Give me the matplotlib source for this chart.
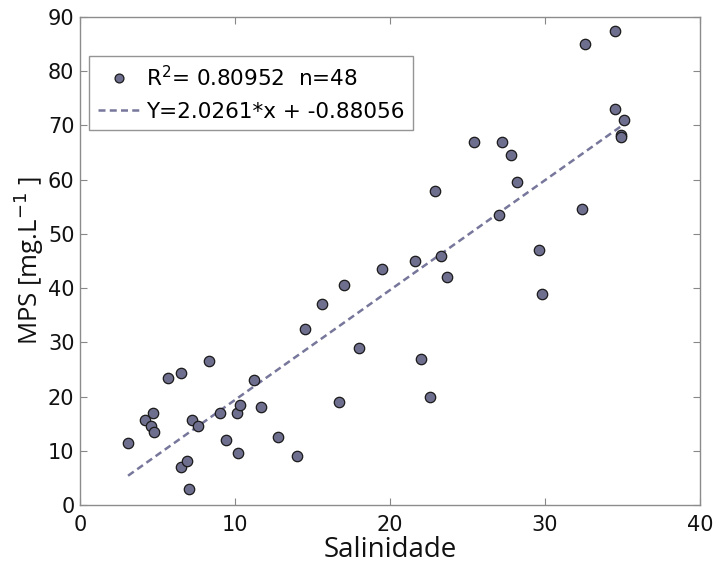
import matplotlib
matplotlib.use("Agg")
import matplotlib.pyplot as plt
import numpy as np

salinidade = [3.1, 4.2, 4.7, 4.6, 4.8, 5.7, 6.5, 6.5, 6.9, 7.0, 7.2, 7.6,
              8.3, 9.0, 9.4, 10.1, 10.2, 10.3, 11.2, 11.7, 12.8, 14.0,
              14.5, 15.6, 16.7, 17.0, 18.0, 19.5, 21.6, 22.0, 22.6, 22.9,
              23.3, 23.7, 25.4, 27.0, 27.2, 27.8, 28.2, 29.6, 29.8, 32.4,
              32.6, 34.5, 34.5, 34.9, 34.9, 35.1]
mps = [11.5, 15.6, 17.0, 14.5, 13.5, 23.5, 24.3, 7.0, 8.2, 3.0, 15.6, 14.5,
       26.5, 17.0, 12.0, 17.0, 9.5, 18.5, 23.1, 18.0, 12.5, 9.0,
       32.5, 37.0, 19.0, 40.5, 29.0, 43.6, 45.0, 27.0, 20.0, 58.0,
       46.0, 42.1, 67.0, 53.5, 67.0, 64.5, 59.5, 47.0, 39.0, 54.5,
       85.0, 73.0, 87.5, 68.3, 67.8, 71.0]
slope = 2.0261
intercept = -0.88056
r2_label = "R$^2$= 0.80952  n=48"
fit_label = "Y=2.0261*x + -0.88056"
x_ticks = [0, 10, 20, 30, 40]
y_ticks = [0, 10, 20, 30, 40, 50, 60, 70, 80, 90]

plt.rcParams['font.family'] = ['DejaVu Sans']
plt.rcParams['mathtext.fontset'] = 'dejavusans'

fig = plt.figure(figsize=(7.15, 5.65), dpi=100)
ax = fig.add_axes([80/715, 60/565, 620/715, 488/565])

ax.plot(salinidade, mps, 'o', ms=7.5, mfc='#6E6E8E', mec='#1a1a1a', mew=0.9,
        label=r2_label, zorder=3)
xs = np.array([min(salinidade), max(salinidade)])
ax.plot(xs, slope * xs + intercept, '--', color='#77779C', lw=1.8,
        dashes=(2.8, 1.7), label=fit_label, zorder=2)

ax.set_xlim(0, 40)
ax.set_ylim(0, 90)
ax.set_xticks(x_ticks)
ax.set_yticks(y_ticks)
ax.tick_params(direction='in', top=True, right=True, length=5, width=0.8,
               color='#888888', labelsize=15, labelcolor='#111111')
ax.tick_params(axis='x', pad=7)
ax.tick_params(axis='y', pad=4)
for s in ax.spines.values():
    s.set_color('#8c8c8c')
    s.set_linewidth(1.0)

ax.set_xlabel('Salinidade', fontsize=20, family=['Open Sans', 'DejaVu Sans'],
              color='#111111')
ax.xaxis.set_label_coords(0.5, -0.064)
ax.set_ylabel('MPS [mg.L$^{-1}$ ]', fontsize=18.5, family=['Open Sans', 'DejaVu Sans'],
              color='#111111')
ax.yaxis.set_label_coords(-0.055, 0.5)

leg = ax.legend(loc='upper left', bbox_to_anchor=(0.0145, 0.92), fontsize=15.5,
                frameon=True, fancybox=False, edgecolor='#7a7a7a',
                handlelength=2.0, handletextpad=0.25, borderpad=0.4,
                labelspacing=0.55, markerscale=0.85, borderaxespad=0)
leg.get_frame().set_linewidth(1.0)

fig.savefig('out.png', dpi=100)
